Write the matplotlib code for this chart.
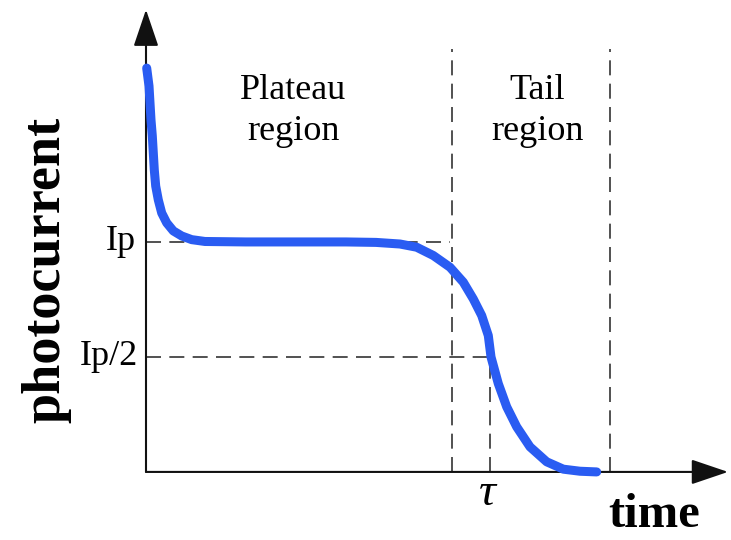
import matplotlib.pyplot as plt

# photocurrent trace (time in arbitrary units, current in units of Ip)
time_pts = [0.7, 3, 4, 5, 6.3, 7.3, 8.3, 9.7, 12.3, 15.7, 20.7, 27.3, 35.7,
            45.7, 59, 100, 150, 200, 230, 254, 270.7, 287.3, 304, 317.3,
            327.3, 335.7, 342.3, 345, 352.3, 360.7, 370.7, 384, 400.7, 417.3,
            434, 450.7]
current_pts = [1.756, 1.678, 1.604, 1.530, 1.461, 1.387, 1.313, 1.243, 1.183,
               1.126, 1.083, 1.048, 1.026, 1.010, 1.002, 1.0, 1.0, 1.0, 0.998,
               0.991, 0.977, 0.941, 0.890, 0.825, 0.752, 0.680, 0.593, 0.5,
               0.384, 0.283, 0.196, 0.109, 0.044, 0.012, 0.003, 0.0]

ip_level = 1.0
half_level = 0.5
tau = 344
plateau_end = 306
tail_end = 464
marker_top = 1.84

fig = plt.figure(figsize=(7.31, 5.40), dpi=100)
ax = fig.add_axes([0, 0, 1, 1])
ax.set_xlim(-146, 585)
ax.set_ylim(-0.296, 2.052)
ax.axis('off')

serif = 'Liberation Serif'
dash_kw = dict(color='#333333', lw=1.2, dashes=(9, 5))

# axes with arrow heads
arrow = dict(arrowstyle='-|>,head_length=2.3,head_width=0.78', mutation_scale=10,
             lw=1.5, color='#111111', shrinkA=0, shrinkB=0)
ax.annotate('', xy=(582, 0), xytext=(0, 0), arrowprops=arrow)
ax.annotate('', xy=(0, 2.01), xytext=(0, 0), arrowprops=arrow)

# guide lines
ax.plot([0, plateau_end - 2], [ip_level, ip_level], **dash_kw)
ax.plot([0, tau], [half_level, half_level], **dash_kw)
ax.plot([tau, tau], [0, half_level], **dash_kw)
ax.plot([plateau_end, plateau_end], [0, marker_top], **dash_kw)
ax.plot([tail_end, tail_end], [0, marker_top], **dash_kw)

# the curve itself
ax.plot(time_pts, current_pts, color='#2a5cf2', lw=6.5,
        solid_capstyle='round', solid_joinstyle='round', zorder=3)

# labels
ax.text(-10, ip_level, 'Ip', ha='right', va='center', fontsize=26, family=serif)
ax.text(-8, half_level, 'Ip/2', ha='right', va='center', fontsize=26, family=serif)
ax.text(tau - 3, -0.095, 'τ', ha='center', va='center', fontsize=34,
        family=serif, style='italic')
ax.text(147, 1.57, 'Plateau\nregion', ha='center', va='center', fontsize=26,
        family=serif, linespacing=1.3)
ax.text(391, 1.57, 'Tail\nregion', ha='center', va='center', fontsize=26,
        family=serif, linespacing=1.3)
ax.text(508, -0.239, 'time', ha='center', va='baseline', fontsize=35,
        family=serif, weight='bold')
ax.text(-100, 0.88, 'photocurrent', ha='center', va='center', rotation=90,
        fontsize=39, family=serif, weight='bold')

fig.savefig('out.png', dpi=100)
